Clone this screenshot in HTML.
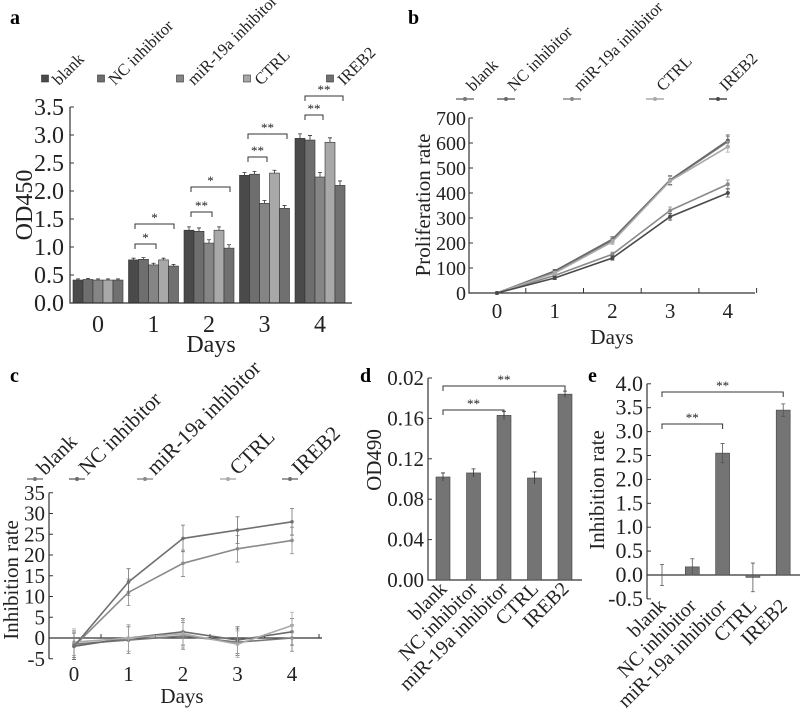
<!DOCTYPE html>
<html><head><meta charset="utf-8"><style>
body{margin:0;background:#fff}
svg{display:block;font-family:"Liberation Serif",serif}
</style></head><body>
<svg id="fig" width="800" height="709" viewBox="0 0 800 709" xmlns="http://www.w3.org/2000/svg">
<text x="10" y="24" font-size="20" font-weight="bold">a</text>
<text x="408" y="24" font-size="20" font-weight="bold">b</text>
<text x="10" y="382" font-size="20" font-weight="bold">c</text>
<text x="360" y="382" font-size="20" font-weight="bold">d</text>
<text x="588" y="382" font-size="20" font-weight="bold">e</text>
</svg>
<script>
const groups=["blank","NC inhibitor","miR-19a inhibitor","CTRL","IREB2"];
const days=[0,1,2,3,4];
// panel a
const aBlank=[0.41,0.77,1.30,2.28,2.94];
const aNC=[0.42,0.78,1.28,2.30,2.91];
const aMiR=[0.41,0.68,1.07,1.78,2.25];
const aCTRL=[0.41,0.77,1.30,2.32,2.87];
const aIREB2=[0.41,0.66,0.98,1.69,2.10];
const aErr=[0.02,0.03,0.06,0.05,0.08];
const aTicks=["0.0","0.5","1.0","1.5","2.0","2.5","3.0","3.5"];
// panel b
const bBlank=[0,85,210,450,605];
const bNC=[0,88,215,452,610];
const bMiR=[0,70,155,330,435];
const bCTRL=[0,80,205,448,585];
const bIREB2=[0,60,140,305,400];
const bTicks=[0,100,200,300,400,500,600,700];
// panel c
const cBlank=[-1.5,-0.5,0.5,-1,0];
const cNC=[-2,0,1.5,-0.5,1.5];
const cMiR=[-2,11,18,21.5,23.5];
const cCTRL=[-1,0,1,-1.5,3];
const cIREB2=[-2,13.5,24,26,28];
const cTicks=[-5,0,5,10,15,20,25,30,35];
// panel d
const dValues=[0.102,0.106,0.163,0.101,0.184];
const dErr=[0.004,0.004,0.004,0.006,0.003];
const dTicks=["0.00","0.04","0.08","0.12","0.16","0.02"];
// panel e
const eValues=[0,0.17,2.55,-0.05,3.45];
const eErr=[0.22,0.17,0.2,0.3,0.13];
const eTicks=["-0.5","0.0","0.5","1.0","1.5","2.0","2.5","3.0","3.5","4.0"];

const svg=document.getElementById('fig');
const NS="http://www.w3.org/2000/svg";
function mk(tag,attrs,parent){const e=document.createElementNS(NS,tag);for(const k in attrs)e.setAttribute(k,attrs[k]);(parent||svg).appendChild(e);return e;}
function txt(x,y,s,size,anchor,rot){const t=mk('text',{x:x,y:y,'font-size':size,'text-anchor':anchor||'start',fill:'#222'});if(rot)t.setAttribute('transform','rotate('+rot+' '+x+' '+y+')');t.textContent=s;return t;}
function bracket(x1,x2,y,label){const g=mk('g',{});


mk('path',{d:`M${x1} ${y+5}V${y}H${x2}V${y+5}`,stroke:'#333',fill:'none','stroke-width':1},g);
const t=mk('text',{x:(x1+x2)/2,y:y-2,'font-size':13,'text-anchor':'middle',fill:'#222'},g);t.textContent=label;}

// ---------- Panel A ----------
(function(){
const x0=70,x1=352,y0=303,k=56;
const ya=v=>y0-v*k;
const xa=(d,i)=>73+d*55.5+i*10;
const series=[aBlank,aNC,aMiR,aCTRL,aIREB2];
const cols=["#4a4a4a","#6e6e6e","#858585","#a8a8a8","#707070"];
const g=mk('g',{});


series.forEach((s,i)=>s.forEach((v,d)=>{
 const r=mk('rect',{x:xa(d,i),y:ya(v),width:10,height:v*k,fill:cols[i],stroke:'#333','stroke-width':0.6},g);
 
 
 const cx=xa(d,i)+5,e=aErr[d];
 mk('path',{d:`M${cx} ${ya(v)}V${ya(v+e)}M${cx-2} ${ya(v+e)}H${cx+2}`,stroke:'#333','stroke-width':0.8},g);
}));
mk('path',{d:`M${x0} ${ya(3.5)}V${y0}H${x1}`,stroke:'#333',fill:'none','stroke-width':1.2},g);
aTicks.forEach((t,i)=>{const y=ya(parseFloat(t));mk('path',{d:`M${x0} ${y}h4`,stroke:'#333'},g);const l=txt(64,y+8,t,24,'end');});
days.forEach(d=>{const l=txt(xa(d,2)+5,332,String(d),24,'middle');});
const yt=txt(32,205,'OD450',24,'middle',-90);
const xt=txt(211,352,'Days',24,'middle');
const lx=[45,101,180,247,330];
groups.forEach((n,i)=>{const lg=mk('g',{});


mk('rect',{x:lx[i]-3.5,y:75,width:7,height:7,fill:cols[i],stroke:'#333','stroke-width':0.6},lg);
const t=mk('text',{x:lx[i]+14,y:86,'font-size':16.5,fill:'#222',transform:`rotate(-45 ${lx[i]+14} 86)`},lg);t.textContent=n;});
bracket(135,156,244,'*');bracket(135,174,224,'*');
bracket(191,212,212,'**');bracket(191,230,187,'*');
bracket(248,267,157,'**');bracket(248,287,134,'**');
bracket(305,323,115,'**');bracket(305,343,96,'**');
})();

// ---------- Panel B ----------
(function(){
const x0=469,x1=755,y0=293,k=0.25;
const yb=v=>y0-v*k;
const xb=d=>497+d*57.7;
const series=[bBlank,bNC,bMiR,bCTRL,bIREB2];
const cols=["#777","#6a6a6a","#8a8a8a","#aaa","#4a4a4a"];
const g=mk('g',{});


mk('path',{d:`M${x0} ${yb(700)}V${y0}H${x1}`,stroke:'#333',fill:'none','stroke-width':1.2},g);
bTicks.forEach(t=>{const y=yb(t);mk('path',{d:`M${x0} ${y}h4`,stroke:'#333'},g);const l=txt(466,y+7,String(t),20,'end');});
days.forEach(d=>{mk('path',{d:`M${xb(d)+28.8} ${y0}v-5`,stroke:'#333'},g);const l=txt(xb(d),318,String(d),21,'middle');});
series.forEach((s,i)=>{const p=mk('polyline',{points:s.map((v,d)=>xb(d)+','+yb(v)).join(' '),fill:'none',stroke:cols[i],'stroke-width':1.6},g);


s.forEach((v,d)=>{const e=v*0.03+4;mk('path',{d:`M${xb(d)} ${yb(v-e)}V${yb(v+e)}M${xb(d)-2} ${yb(v+e)}h4M${xb(d)-2} ${yb(v-e)}h4`,stroke:cols[i],'stroke-width':0.8},g);mk('circle',{cx:xb(d),cy:yb(v),r:2,fill:cols[i]},g);});});
const yt=txt(430,205,'Proliferation rate',21,'middle',-90);
const xt=txt(612,344,'Days',21,'middle');
const lx=[465,506,572,655,718];
groups.forEach((n,i)=>{const lg=mk('g',{});


mk('path',{d:`M${lx[i]-9} 99h18`,stroke:cols[i],'stroke-width':1.4},lg);mk('circle',{cx:lx[i],cy:99,r:2,fill:cols[i]},lg);
const t=mk('text',{x:lx[i]+8,y:92,'font-size':16.5,fill:'#222',transform:`rotate(-45 ${lx[i]+8} 92)`},lg);t.textContent=n;});
})();

// ---------- Panel C ----------
(function(){
const x0=49,x1=322,k=4.15,yz=638;
const yc=v=>yz-v*k;
const xc=d=>74+d*54.5;
const series=[cBlank,cNC,cMiR,cCTRL,cIREB2];
const cols=["#777","#6a6a6a","#8a8a8a","#aaa","#707070"];
const g=mk('g',{});


mk('path',{d:`M${x0} ${yc(35)}V${yc(-5)}M${x0} ${yz}H${x1}`,stroke:'#333',fill:'none','stroke-width':1.2},g);
cTicks.forEach(t=>{const y=yc(t);mk('path',{d:`M${x0} ${y}h4`,stroke:'#333'},g);const l=txt(45,y+7,String(t),21,'end');});
days.forEach(d=>{mk('path',{d:`M${xc(d)+27} ${yz}v-4`,stroke:'#333'},g);const l=txt(xc(d),681,String(d),21,'middle');});
series.forEach((s,i)=>{const p=mk('polyline',{points:s.map((v,d)=>xc(d)+','+yc(v)).join(' '),fill:'none',stroke:cols[i],'stroke-width':1.6},g);


s.forEach((v,d)=>{const e=3.2;mk('path',{d:`M${xc(d)} ${yc(v-e)}V${yc(v+e)}M${xc(d)-2} ${yc(v+e)}h4M${xc(d)-2} ${yc(v-e)}h4`,stroke:cols[i],'stroke-width':0.8},g);mk('circle',{cx:xc(d),cy:yc(v),r:1.8,fill:cols[i]},g);});});
const yt=txt(18,580,'Inhibition rate',21,'middle',-90);
const xt=txt(182,703,'Days',21,'middle');
const lx=[35,77,145,228,290];
groups.forEach((n,i)=>{const lg=mk('g',{});


mk('path',{d:`M${lx[i]-8} 479h16`,stroke:cols[i],'stroke-width':1.4},lg);mk('circle',{cx:lx[i],cy:479,r:2,fill:cols[i]},lg);
const t=mk('text',{x:lx[i]+10,y:476,'font-size':21,fill:'#222',transform:`rotate(-45 ${lx[i]+10} 476)`},lg);t.textContent=n;});
})();

// ---------- Panel D ----------
(function(){
const x0=428,x1=582,y0=580,k=40.4/0.04;
const yd=v=>y0-v*k;
const xd=i=>443+i*30.5;
const g=mk('g',{});


mk('path',{d:`M${x0} ${yd(0.2)}V${y0}H${x1}`,stroke:'#333',fill:'none','stroke-width':1.2},g);
const tv=[0,0.04,0.08,0.12,0.16,0.2];
dTicks.forEach((t,i)=>{const y=yd(tv[i]);mk('path',{d:`M${x0} ${y}h4`,stroke:'#333'},g);const l=txt(424,y+7,t,21,'end');});
dValues.forEach((v,i)=>{const r=mk('rect',{x:xd(i)-7,y:yd(v),width:14,height:v*k,fill:'#747474',stroke:'#444','stroke-width':0.6},g);


const e=dErr[i];mk('path',{d:`M${xd(i)} ${yd(v-e)}V${yd(v+e)}M${xd(i)-2} ${yd(v+e)}h4`,stroke:'#333','stroke-width':0.8},g);
const l=txt(xd(i)+5,y0+10,groups[i],20,'end',-45);});
const yt=txt(381,460,'OD490',21,'middle',-90);
bracket(xd(0),xd(4),386,'**');bracket(xd(0),xd(2),410,'**');
})();

// ---------- Panel E ----------
(function(){
const x0=647,x1=800,k=47.8,yz=575;
const ye=v=>yz-v*k;
const xe=i=>662+i*30.3;
const g=mk('g',{});


mk('path',{d:`M${x0} ${ye(4)}V${ye(-0.5)}M${x0} ${yz}H${x1}`,stroke:'#333',fill:'none','stroke-width':1.2},g);
eTicks.forEach(t=>{const y=ye(parseFloat(t));mk('path',{d:`M${x0} ${y}h4`,stroke:'#333'},g);const l=txt(643,y+7,t,22,'end');});
eValues.forEach((v,i)=>{const r=mk('rect',{x:xe(i)-7,y:Math.min(ye(v),yz),width:14,height:Math.abs(v*k),fill:'#747474',stroke:'#444','stroke-width':0.6},g);


const e=eErr[i];mk('path',{d:`M${xe(i)} ${ye(v-e)}V${ye(v+e)}M${xe(i)-2} ${ye(v+e)}h4M${xe(i)-2} ${ye(v-e)}h4`,stroke:'#555','stroke-width':0.8},g);
const l=txt(xe(i)+5,ye(-0.5)+8,groups[i],20,'end',-45);});
const yt=txt(604,490,'Inhibition rate',21,'middle',-90);
bracket(xe(0),xe(4),392,'**');bracket(xe(0),xe(2),424,'**');
})();
</script>
</body></html>
